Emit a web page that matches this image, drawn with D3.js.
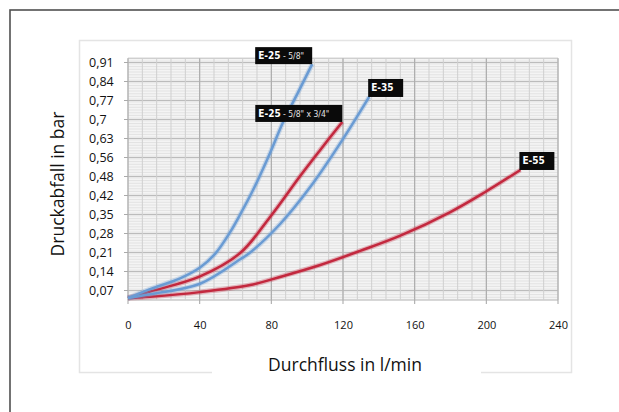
<!DOCTYPE html>
<html>
<head>
<meta charset="utf-8">
<script src="https://cdn.jsdelivr.net/npm/d3@7/dist/d3.min.js"></script>
<style>
  html, body { margin: 0; padding: 0; background: #fff; }
  svg { display: block; }
</style>
</head>
<body>
<svg id="chart" width="619" height="412"></svg>
<script>
// ---- data ----
const xTicks = [0, 40, 80, 120, 160, 200, 240];
const yTickValues = [0.07, 0.14, 0.21, 0.28, 0.35, 0.42, 0.49, 0.56, 0.63, 0.70, 0.77, 0.84, 0.91];
const yTickLabels = ["0,07", "0,14", "0,21", "0,28", "0,35", "0,42", "0,48", "0,56", "0,63", "0,7", "0,77", "0,84", "0,91"];

const e25_58_x = [0, 12.3, 29.1, 40.2, 48.6, 57.0, 62.6, 69.8, 79.3, 86.6, 95.0, 102.8];
const e25_58_y = [0.042, 0.075, 0.115, 0.155, 0.205, 0.285, 0.350, 0.440, 0.577, 0.691, 0.801, 0.904];

const e25_34_x = [0, 12.3, 40.2, 62.6, 79.3, 96.1, 107.3, 119.6];
const e25_34_y = [0.042, 0.066, 0.122, 0.208, 0.341, 0.492, 0.588, 0.691];

const e35_x = [0, 12.3, 40.2, 62.6, 68.2, 84.9, 101.7, 119.6, 134.6];
const e35_y = [0.042, 0.056, 0.095, 0.185, 0.210, 0.315, 0.451, 0.624, 0.783];

const e55_x = [0, 12.3, 40.2, 68.2, 84.9, 107.3, 129.6, 152.0, 179.9, 199.4, 219.0];
const e55_y = [0.042, 0.047, 0.064, 0.090, 0.120, 0.164, 0.216, 0.272, 0.359, 0.433, 0.514];

const seriesNames = ["E-25 - 5/8\"", "E-25 - 5/8\" x 3/4\"", "E-35", "E-55"];
const seriesColors = ["#6a9bd3", "#c3283e", "#6a9bd3", "#c3283e"];

// ---- layout ----
const svg = d3.select("#chart");
const x = d3.scaleLinear().domain([0, 240]).range([128, 558]);
const y = d3.scaleLinear().domain([0.035, 0.91]).range([300, 62.5]);
const yTop = 0.926;

// outer frame
svg.append("rect").attr("x", 10).attr("y", 10).attr("width", 630).attr("height", 420)
  .attr("fill", "none").attr("stroke", "#505050").attr("stroke-width", 1.6);

// inner light box
svg.append("rect").attr("x", 79.5).attr("y", 40.5).attr("width", 492).attr("height", 332)
  .attr("fill", "none").attr("stroke", "#e4e4e4").attr("stroke-width", 1.5);

// plot background
const g = svg.append("g");
g.append("rect").attr("x", x(0)).attr("y", y(yTop)).attr("width", x(240) - x(0))
  .attr("height", y(0.035) - y(yTop)).attr("fill", "#f4f4f4");

// horizontal minor lines every 0.01
g.selectAll(".hmin").data(d3.range(0, 90).filter(d => 0.035 + d * 0.01 <= yTop)).join("line")
  .attr("x1", x(0)).attr("x2", x(240))
  .attr("y1", d => y(0.035 + d * 0.01)).attr("y2", d => y(0.035 + d * 0.01))
  .attr("stroke", "#dedede").attr("stroke-width", 0.8);

// horizontal major lines
g.selectAll(".hmaj").data([0.035].concat(yTickValues)).join("line")
  .attr("x1", x(0)).attr("x2", x(240))
  .attr("y1", d => y(d)).attr("y2", d => y(d))
  .attr("stroke", "#bcbcbc").attr("stroke-width", 1);
g.append("line").attr("x1", x(0)).attr("x2", x(240)).attr("y1", y(yTop)).attr("y2", y(yTop))
  .attr("stroke", "#c4c4c4").attr("stroke-width", 1);

// vertical minor lines every 8
g.selectAll(".vmin").data(d3.range(0, 241, 8)).join("line")
  .attr("x1", d => x(d)).attr("x2", d => x(d))
  .attr("y1", y(yTop)).attr("y2", y(0.035))
  .attr("stroke", "#cfcfcf").attr("stroke-width", 1);
// vertical major lines
g.selectAll(".vmaj").data(xTicks).join("line")
  .attr("x1", d => x(d)).attr("x2", d => x(d))
  .attr("y1", y(yTop)).attr("y2", y(0.035) + 4)
  .attr("stroke", "#ababab").attr("stroke-width", 1.1);

// y tick marks
g.selectAll(".ytk").data(yTickValues).join("line")
  .attr("x1", x(0) - 4).attr("x2", x(0))
  .attr("y1", d => y(d)).attr("y2", d => y(d))
  .attr("stroke", "#aaa").attr("stroke-width", 1);

// axes labels
const yAxis = d3.axisLeft(y).tickValues(yTickValues).tickFormat((d, i) => yTickLabels[i]).tickSize(0);
const ya = svg.append("g").call(yAxis);
ya.select(".domain").remove();
ya.selectAll("text").attr("x", 89).attr("text-anchor", "start")
  .attr("font-family", "'Open Sans', sans-serif").attr("font-size", 12.5).attr("fill", "#111");

const xAxis = d3.axisBottom(x).tickValues(xTicks).tickFormat(d => d).tickSize(0);
const xa = svg.append("g").attr("transform", "translate(0,318)").call(xAxis);
xa.select(".domain").remove();
xa.selectAll("text").attr("font-family", "'Open Sans', sans-serif").attr("font-size", 11).attr("fill", "#111");

// ---- curves ----
const line = d3.line().x(d => x(d[0])).y(d => y(d[1])).curve(d3.curveCatmullRom.alpha(0.5));
const series = [
  { name: seriesNames[0], xs: e25_58_x, ys: e25_58_y, color: seriesColors[0] },
  { name: seriesNames[1], xs: e25_34_x, ys: e25_34_y, color: seriesColors[1] },
  { name: seriesNames[2], xs: e35_x, ys: e35_y, color: seriesColors[2] },
  { name: seriesNames[3], xs: e55_x, ys: e55_y, color: seriesColors[3] }
];
const drawOrder = [3, 1, 2, 0];
drawOrder.forEach(i => {
  const s = series[i];
  const pts = s.xs.map((v, k) => [v, s.ys[k]]);
  svg.append("path").attr("d", line(pts)).attr("fill", "none")
    .attr("stroke", s.color).attr("stroke-opacity", 0.3).attr("stroke-width", 5);
  svg.append("path").attr("d", line(pts)).attr("fill", "none")
    .attr("stroke", s.color).attr("stroke-width", 2.5);
});

// ---- end labels ----
function endLabel(s, bold, rest, align, w, h) {
  const n = s.xs.length - 1;
  const ex = x(s.xs[n]), ey = y(s.ys[n]);
  const bx = align === "right" ? ex - w : ex - 1;
  const by = ey - h;
  svg.append("rect").attr("x", bx).attr("y", by).attr("width", w).attr("height", h).attr("fill", "#0a0a0a");
  const t = svg.append("text").attr("x", bx + 3).attr("y", by + h / 2 + 3.4)
    .attr("font-family", "'Liberation Sans Narrow', 'DejaVu Sans Condensed', sans-serif")
    .attr("fill", "#fff");
  t.append("tspan").attr("font-weight", "bold").attr("font-size", 10).text(bold);
  if (rest) t.append("tspan").attr("font-size", 8.5).attr("fill", "#e4e4e4").text(rest);
}
endLabel(series[0], "E-25", " - 5/8\"", "right", 57, 17);
endLabel(series[1], "E-25", " - 5/8\" x 3/4\"", "right", 87, 17);
endLabel(series[2], "E-35", "", "left", 35, 18);
endLabel(series[3], "E-55", "", "left", 35, 18);

// ---- titles ----
svg.append("rect").attr("x", 212).attr("y", 366).attr("width", 269).attr("height", 14).attr("fill", "#fff");
svg.append("text").attr("x", 345).attr("y", 371).attr("text-anchor", "middle")
  .attr("font-family", "'Open Sans', sans-serif").attr("font-size", 17.5).attr("fill", "#111")
  .text("Durchfluss in l/min");
svg.append("text").attr("transform", "translate(64,184) rotate(-90)").attr("text-anchor", "middle")
  .attr("font-family", "'Open Sans', sans-serif").attr("font-size", 17.5).attr("fill", "#111")
  .text("Druckabfall in bar");
</script>
</body>
</html>
